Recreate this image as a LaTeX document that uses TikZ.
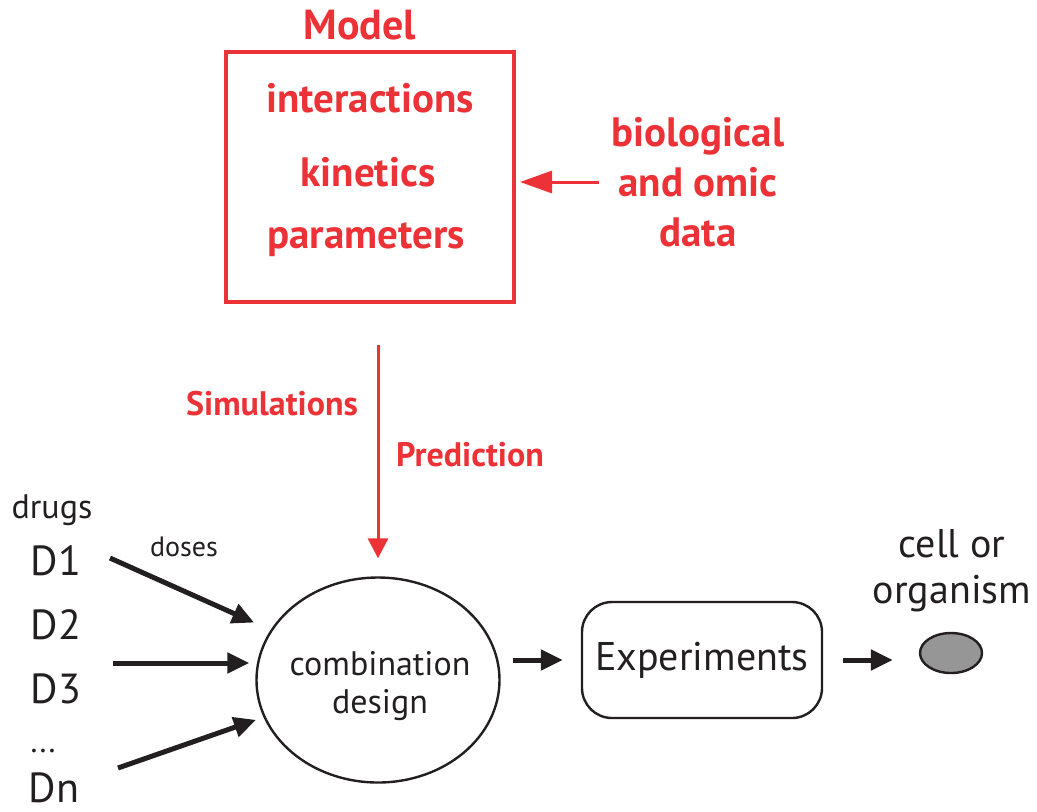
\documentclass[tikz,border=0pt]{standalone}
\usepackage{fontspec}
\setmainfont{PT Sans}
\usetikzlibrary{arrows.meta,shapes.geometric}
\definecolor{modelred}{RGB}{237,50,55}
\definecolor{inkdark}{RGB}{35,31,32}
\definecolor{cellgray}{RGB}{150,150,150}
\begin{document}
\begin{tikzpicture}[x=0.5pt,y=-0.5pt,
  red text/.style={text=modelred,font=\fontsize{20.5}{25}\selectfont\bfseries,align=center,inner sep=0pt},
  black text/.style={text=inkdark,inner sep=0pt,align=center},
  drug/.style={black text,anchor=base,font=\fontsize{21}{24}\selectfont},
  thick arrow/.style={-{Triangle[length=11pt,width=10pt]},line width=2.5pt,draw=inkdark},
  red arrow/.style={-{Triangle[length=10pt,width=10pt]},line width=1.5pt,draw=modelred}]
\useasboundingbox (0,0) rectangle (1037,811);
% model box
\node[red text,font=\fontsize{21}{24}\selectfont\bfseries] (model) at (360,25) {Model};
\node[draw=modelred,line width=2pt,minimum width=144pt,minimum height=125pt] (box) at (370,177) {};
\node[red text] (inter) at (370,98) {interactions};
\node[red text] (kin) at (368,172) {kinetics};
\node[red text] (param) at (366,240) {parameters};
\node[red text] (data) at (698,182) {biological\\and omic\\data};
\draw[red arrow,-{Triangle[length=16pt,width=11pt]},shorten <=6pt,shorten >=2pt] (data.west) -- (data.west -| box.east);
% simulation
\node[red text,font=\fontsize{17}{20}\selectfont\bfseries] (sim) at (272,404) {Simulations};
\node[red text,font=\fontsize{17}{20}\selectfont\bfseries] (pred) at (470,455) {Prediction};
\coordinate (simtop) at (378,345);
% drugs
\node[black text,anchor=base,font=\fontsize{17}{20}\selectfont] (drugs) at (52,518) {drugs};
\node[black text,anchor=base,font=\fontsize{14}{16}\selectfont] (doses) at (184,556) {doses};
\node[drug] (d1) at (56,575) {D1};
\node[drug] (d2) at (56,639) {D2};
\node[drug] (d3) at (56,703) {D3};
\node[drug,font=\fontsize{16}{18}\selectfont] (dots) at (43,752) {...};
\node[drug] (dn) at (54,802) {Dn};
\coordinate (d1start) at (110,558);
\coordinate (d2start) at (113,663);
\coordinate (dnstart) at (118,768);
% design and experiments
\node[draw=inkdark,line width=1.2pt,ellipse,minimum width=121.5pt,minimum height=102.5pt,inner sep=0pt] (comb) at (378,680) {};
\node[black text,font=\fontsize{17}{19}\selectfont] (combtext) at (380,686) {combination\\design};
\node[draw=inkdark,line width=1.2pt,rounded corners=15pt,minimum width=120pt,minimum height=58pt,black text,font=\fontsize{20}{22}\selectfont] (exp) at (702,660) {Experiments};
\node[draw=inkdark,line width=1.2pt,ellipse,fill=cellgray,minimum width=31pt,minimum height=20pt,inner sep=0pt] (cell) at (951,653) {};
\node[black text,anchor=base,font=\fontsize{20}{23}\selectfont] (org) at (952,603) {organism};
\node[black text,anchor=base,font=\fontsize{20}{23}\selectfont] (cellor) at (952,557) {cell or};
\draw[red arrow,shorten >=9pt] (simtop) -- (simtop |- comb.north);
\draw[thick arrow,shorten >=9pt] (d1start) -- (comb.155);
\draw[thick arrow,shorten >=3pt] (d2start) -- (d2start -| comb.west);
\draw[thick arrow,shorten >=4pt] (dnstart) -- (comb.198);
\draw[thick arrow,shorten <=6pt,shorten >=9pt] (comb.east |- exp.west) -- (exp.west);
\draw[thick arrow,shorten <=10pt,shorten >=13pt] (exp.east) -- (exp.east -| cell.west);
\end{tikzpicture}
\end{document}
